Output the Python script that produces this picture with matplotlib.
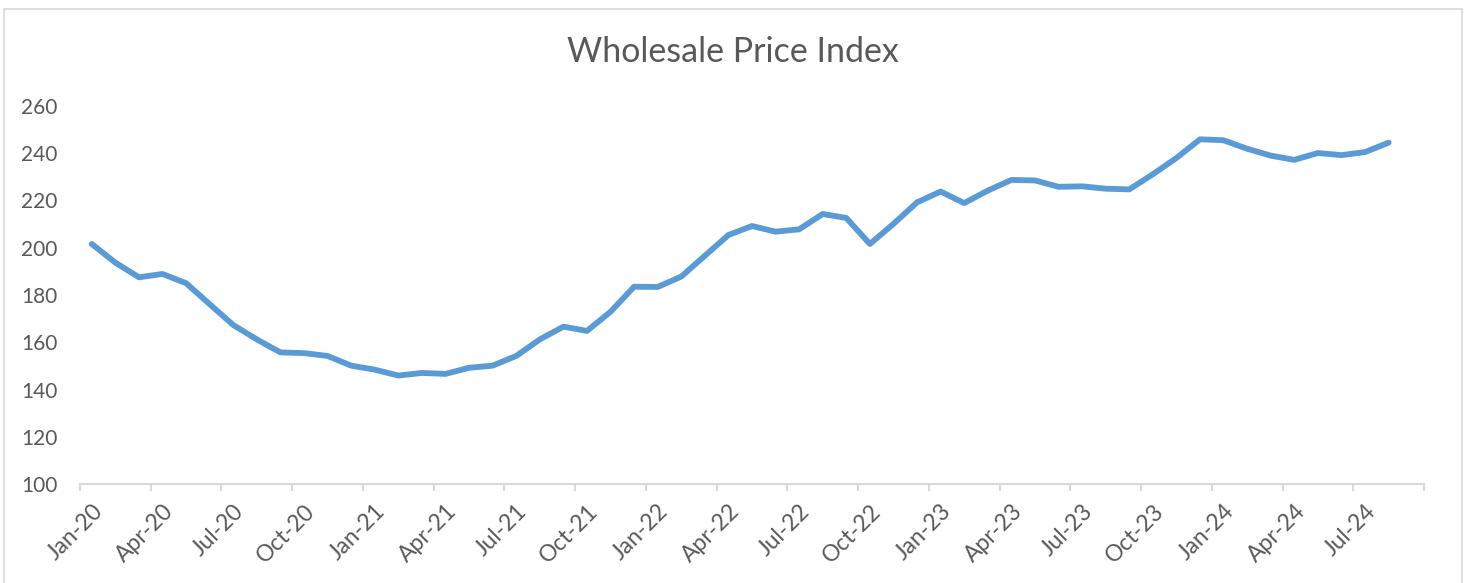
import numpy as np
import matplotlib
matplotlib.use("Agg")
import matplotlib.pyplot as plt
from matplotlib.patches import Rectangle

# monthly index, Jan-20 .. Aug-24 (Sep-24 slot left empty as in the source)
wpi = [201.6, 193.7, 187.5, 188.9, 185.0, 176.1, 167.3, 161.2, 155.7, 155.4,
       154.2, 150.1, 148.4, 145.9, 147.0, 146.6, 149.2, 150.1, 154.2, 161.2,
       166.6, 164.8, 172.9, 183.5, 183.4, 187.8, 196.6, 205.4, 209.2, 206.8,
       207.8, 214.3, 212.6, 201.6, 210.1, 219.2, 223.8, 218.9, 224.2, 228.7,
       228.5, 225.8, 226.0, 225.0, 224.7, 231.1, 238.0, 245.9, 245.5, 241.9,
       239.0, 237.2, 240.1, 239.2, 240.5, 244.5]
n_slots = 57

tick_labels = ["Jan-20", "Apr-20", "Jul-20", "Oct-20", "Jan-21", "Apr-21",
               "Jul-21", "Oct-21", "Jan-22", "Apr-22", "Jul-22", "Oct-22",
               "Jan-23", "Apr-23", "Jul-23", "Oct-23", "Jan-24", "Apr-24",
               "Jul-24"]
y_ticks = [100, 120, 140, 160, 180, 200, 220, 240, 260]

plt.rcParams["font.family"] = ["Lato", "DejaVu Sans"]
text_col = "#595959"
grid_col = "#d9d9d9"

fig = plt.figure(figsize=(14.72, 5.83), dpi=100)
ax = fig.add_axes([80 / 1472, 99 / 583, 1344 / 1472, 378 / 583])

x = np.arange(len(wpi))
ax.plot(x, wpi, color="#5B9BD5", linewidth=4.2,
        solid_capstyle="round", solid_joinstyle="round")

ax.set_xlim(-0.5, n_slots - 0.5)
ax.set_ylim(100, 260)

# y axis: labels only
ax.set_yticks(y_ticks)
ax.tick_params(axis="y", length=0, pad=16, labelsize=15, labelcolor=text_col)

# x axis: boundary tick marks every 3 months, labels on category centres
ax.set_xticks(np.arange(-0.5, n_slots, 3))
ax.set_xticklabels([])
ax.tick_params(axis="x", which="major", length=5, width=1.5, color=grid_col,
               direction="out")
ax.set_xticks(np.arange(0, n_slots, 3)[:len(tick_labels)], minor=True)
ax.set_xticklabels(tick_labels, minor=True, rotation=45, ha="right",
                   rotation_mode="anchor", fontsize=16.5, color=text_col)
ax.tick_params(axis="x", which="minor", length=0, pad=12)

for side in ["top", "right", "left"]:
    ax.spines[side].set_visible(False)
ax.spines["bottom"].set_color(grid_col)
ax.spines["bottom"].set_linewidth(1.5)

fig.text(733 / 1472, 1 - 52 / 583, "Wholesale Price Index", ha="center",
         va="center", fontsize=24.5, color=text_col)

# chart-area border (bottom edge runs off the picture)
fig.add_artist(Rectangle((4 / 1472, -0.1), 1458 / 1472, 1.1 - 9 / 583,
                         transform=fig.transFigure, fill=False,
                         edgecolor=grid_col, linewidth=1.2))

fig.savefig("out.png", dpi=100)
